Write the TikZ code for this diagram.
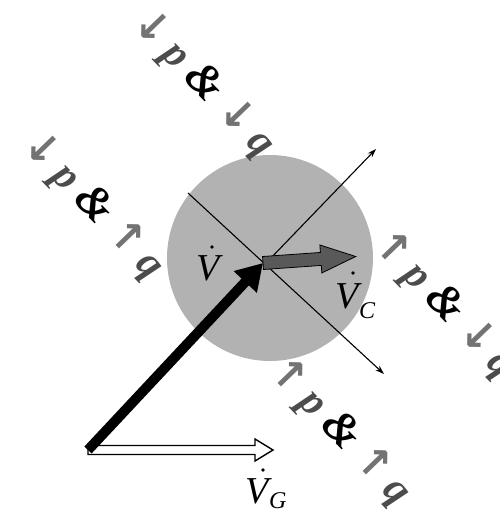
\documentclass[tikz,border=0pt]{standalone}
\usepackage{fontspec}
\setmainfont{Liberation Serif}
\newfontfamily\arrfont{DejaVu Sans}
\usetikzlibrary{arrows.meta,calc}
\newcommand{\gdn}{\textcolor{black!55}{\arrfont\bfseries\upshape ↓}}
\newcommand{\gup}{\textcolor{black!55}{\arrfont\bfseries\upshape ↑}}
\newcommand{\gch}[1]{\textcolor{black!70}{\rmfamily\bfseries\itshape #1}}
\newcommand{\amp}{{\rmfamily\bfseries\itshape\fontsize{46}{46}\selectfont\&}}
\begin{document}
\begin{tikzpicture}[x=1pt,y=-1pt,
  thinarrow/.style={line width=1.1pt,-{Stealth[length=9pt,width=6pt]}},
  lbl/.style={font=\rmfamily\bfseries\itshape\fontsize{42}{42}\selectfont, rotate=-46, inner sep=0pt},
  vlabel/.style={font=\itshape\fontsize{38}{38}\selectfont, inner sep=0pt, anchor=base west},
  sublabel/.style={font=\itshape\fontsize{24}{24}\selectfont, inner sep=0pt, anchor=base west},
  vdot/.style={fill=black}]
\useasboundingbox (0,0) rectangle (500,519);
% circle
\fill[black!30] (270,258) circle (103);
% coordinates
\coordinate (O) at (88,450);
\coordinate (P) at (263,263);
\coordinate (G) at (273,450);
\coordinate (A1) at (188,193);
\coordinate (A2) at (384,374);
\coordinate (B1) at (268,261);
\coordinate (B2) at (376,149);
% thin axes
\draw[thinarrow] (A1) -- (A2);
\draw[thinarrow] (B1) -- (B2);
% white arrow V_G
\draw[fill=white, line width=1.4pt, line join=miter]
  ($(O)+(0,-4.5)$) -- ($(G)+(-18,-4.5)$) -- ($(G)+(-18,-11)$) -- (G)
  -- ($(G)+(-18,11)$) -- ($(G)+(-18,4.5)$) -- ($(O)+(0,4.5)$) -- cycle;
% black arrow V
\draw[line width=10pt, -{Triangle[length=26pt,width=30pt]}] (O) -- (P);
% gray arrow V_C
\begin{scope}[shift={(P)}, rotate=4]
  \draw[fill=black!65, line width=0.8pt, line join=miter]
    (0,-6.5) -- (58,-6.5) -- (58,-14) -- (93,0) -- (58,14) -- (58,6.5) -- (0,6.5) -- cycle;
\end{scope}
% vector labels
\node[vlabel] (V) at (196,280) {V};
\fill[vdot] (212,247) circle (1.8);
\node[vlabel] (VC) at (335,308) {V};
\node[sublabel] (VCs) at (359,318) {C};
\fill[vdot] (353,273) circle (1.8);
\node[vlabel] (VG) at (245,503) {V};
\node[sublabel] (VGs) at (269,508) {G};
\fill[vdot] (263,470) circle (1.8);
% rotated labels
\node[lbl] (L1) at (203,84) {\gdn\,\gch{p}\;\amp\;\gdn\,\gch{q}};
\node[lbl] (L2) at (93,206) {\gdn\,\gch{p}\;\amp\;\gup\,\gch{q}};
\node[lbl] (L3) at (444,305) {\gup\,\gch{p}\;\amp\;\gdn\,\gch{q}};
\node[lbl] (L4) at (340,432) {\gup\,\gch{p}\;\amp\;\gup\,\gch{q}};
\end{tikzpicture}
\end{document}
